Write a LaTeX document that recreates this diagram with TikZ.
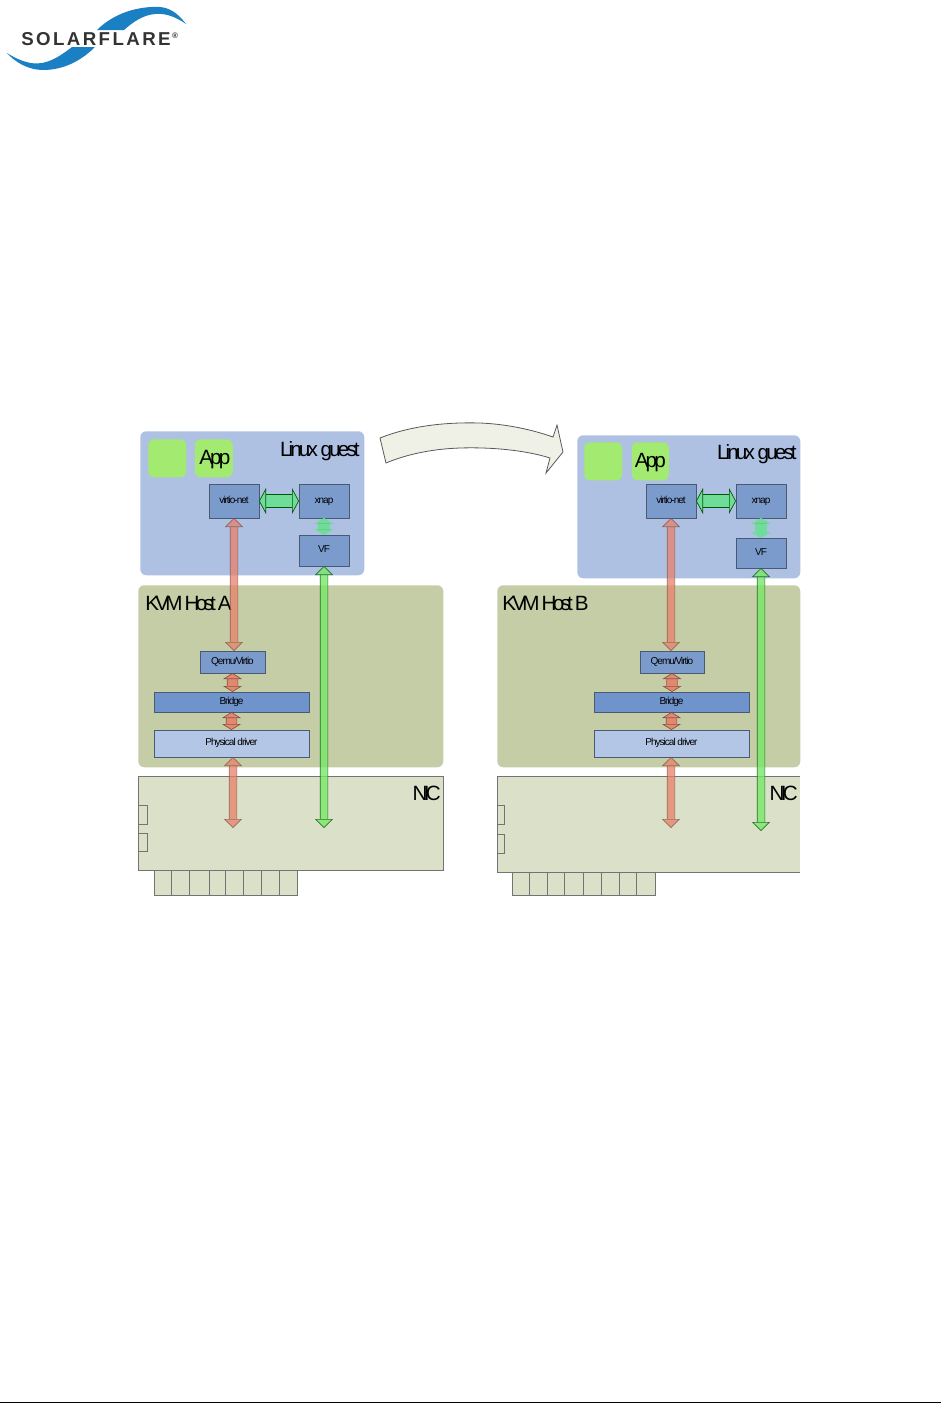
\documentclass[tikz,border=0pt]{standalone}
\usepackage{fontspec}
\setmainfont{Liberation Sans}
\newfontfamily\tightfont[LetterSpace=-14]{Liberation Sans}
\newfontfamily\hostfont[LetterSpace=-18]{Liberation Sans}
\newfontfamily\smallfont[LetterSpace=-10]{Liberation Sans}
\newfontfamily\logofont[LetterSpace=13]{Liberation Sans}
\usetikzlibrary{arrows.meta,positioning,calc}
\def\pxu{.75pt}
\definecolor{ink}{HTML}{4A5A70}
\definecolor{guest}{HTML}{AEC1E2}
\definecolor{host}{HTML}{C5CDA6}
\definecolor{card}{HTML}{DBE0C8}
\definecolor{apple}{HTML}{A2EA70}
\definecolor{module}{HTML}{7C9BCD}
\definecolor{bridge}{HTML}{6F93CB}
\definecolor{driver}{HTML}{B3C6E6}
\definecolor{salmon}{HTML}{E8806A}
\definecolor{mint}{HTML}{6FDC9A}
\definecolor{lime}{HTML}{78E868}
\definecolor{swoosh}{HTML}{1B7FC4}
\tikzset{
 region/.style={inner sep=0,anchor=north west,rounded corners=6*\pxu},
 apptile/.style={region,fill=apple,minimum width=38*\pxu,minimum height=38*\pxu},
 modbox/.style={draw=ink,fill=module,line width=.7pt,inner sep=0,outer sep=0,align=center,text height=5.2pt,text depth=1.5pt,font=\fontsize{7.5}{8}\smallfont},
 wide/.style={modbox,anchor=north west,minimum width=155*\pxu},
 title/.style={inner sep=0,font=\fontsize{15.5}{16}\tightfont},
 hosttitle/.style={inner sep=0,font=\fontsize{15.5}{16}\hostfont},
 nicbox/.style={draw=black!55,fill=card,line width=.7pt},
 redlink/.style={double=salmon,draw=black!45!salmon,line width=.5pt,double distance=7*\pxu,
   {Triangle[length=9*\pxu,width=18*\pxu,fill=salmon]}-{Triangle[length=9*\pxu,width=18*\pxu,fill=salmon]}},
 shortlink/.style={double=salmon,draw=black!45!salmon,line width=.5pt,double distance=10*\pxu,
   {Triangle[length=6*\pxu,width=19*\pxu,fill=salmon]}-{Triangle[length=6*\pxu,width=19*\pxu,fill=salmon]}},
 greenlink/.style={double=lime,draw=green!35!black,line width=.5pt,double distance=7*\pxu,
   {Triangle[length=9*\pxu,width=18*\pxu,fill=lime]}-{Triangle[length=9*\pxu,width=18*\pxu,fill=lime]}},
 minthlink/.style={double=mint,draw=green!35!black,line width=.5pt,double distance=12*\pxu,
   {Triangle[length=7*\pxu,width=26*\pxu,fill=mint]}-{Triangle[length=7*\pxu,width=26*\pxu,fill=mint]}},
 mintvlink/.style={preaction={draw=black!75,line width=12*\pxu,dash pattern=on 2pt off 2.5pt,arrows=-,shorten <=5*\pxu,shorten >=5*\pxu},
   double=mint,draw=mint,line width=.4pt,double distance=10*\pxu,
   {Triangle[length=6*\pxu,width=20*\pxu,fill=mint,color=mint]}-{Triangle[length=6*\pxu,width=20*\pxu,fill=mint,color=mint]}}
}
\begin{document}
\begin{tikzpicture}[x=.75pt,y=-.75pt]
  \useasboundingbox (0,0) rectangle (941,1404);
  % logo
  \fill[swoosh] (97,30) .. controls (115,12) and (140,6) .. (160,7) .. controls (172,8) and (180,16) .. (186,24)
    .. controls (176,17) and (166,13) .. (155,14) .. controls (143,15) and (133,22) .. (124,30) -- cycle;
  \fill[swoosh] (95,47) .. controls (80,62) and (62,70) .. (43,70) .. controls (28,70) and (15,62) .. (7,53)
    .. controls (18,60) and (30,65) .. (42,63) .. controls (53,61) and (63,54) .. (72,47) -- cycle;
  \node[inner sep=0,anchor=west,text=black!80,font=\fontsize{14}{15}\logofont\bfseries] (logo) at (21,39) {SOLARFLARE};
  \node[inner sep=0,anchor=center,text=black!80,font=\fontsize{6}{6}\bfseries] (logomark) at (175,36) {®};

  % host A
  \node[region,fill=guest,minimum width=224*\pxu,minimum height=144*\pxu] (guesta) at (140,431) {};
  \node[region,fill=host,minimum width=305*\pxu,minimum height=182*\pxu] (hosta) at (138,585) {};
  \node[nicbox,inner sep=0,outer sep=0,anchor=north west,minimum width=305*\pxu,minimum height=94*\pxu] (nica) at (138,776) {};
  \foreach \xa/\xb in {154/171,171/189,189/209,209/225,225/243,243/261,261/279,279/297}
    \draw[nicbox] (\xa,870) rectangle (\xb,895);
  \draw[nicbox] (138,805) rectangle (147,824);
  \draw[nicbox] (138,833) rectangle (147,851);
  \node[apptile] (blanka) at (148,439) {};
  \node[apptile,right=8*\pxu of blanka] (appa) {};
  \node[title] at ([xshift=1*\pxu,yshift=-1.5*\pxu]appa) {App};
  \node[title,anchor=east] (linuxa) at (360,451.5) {Linux guest};
  \node[hosttitle,anchor=west] (kvma) at (145,603) {KVM Host A};
  \node[hosttitle,anchor=east] (nicta) at (441,793) {NIC};
  \node[modbox,anchor=north west,minimum width=50*\pxu,minimum height=34*\pxu] (virtioa) at (209,484) {virtio-net};
  \node[modbox,minimum width=50*\pxu,minimum height=34*\pxu,right=40*\pxu of virtioa] (xnapa) {xnap};
  \node[modbox,minimum width=50*\pxu,minimum height=31*\pxu,below=17*\pxu of xnapa] (vfa) {VF};
  \node[modbox,anchor=north west,minimum width=65*\pxu,minimum height=22*\pxu] (qemua) at (200,651) {Qemu/Virtio};
  \node[wide,fill=bridge,minimum height=20*\pxu] (bridgea) at (154,692) {Bridge};
  \node[wide,fill=driver,minimum height=27*\pxu,anchor=north,below=18*\pxu of bridgea] (drivera) {Physical driver};
  \coordinate (redenda) at (233,828);
  \coordinate (greenenda) at (324,828);
  \scoped[transparency group,opacity=.75] \draw[redlink] (virtioa.south) -- (virtioa.south |- qemua.north);
  \scoped[transparency group,opacity=.9] \draw[shortlink] (qemua.south) -- (qemua.south |- bridgea.north);
  \scoped[transparency group,opacity=.9] \draw[shortlink] (bridgea.south) -- (drivera.north);
  \scoped[transparency group,opacity=.75] \draw[redlink] (redenda |- drivera.south) -- (redenda);
  \scoped[transparency group,opacity=.8] \draw[greenlink] (vfa.south) -- (greenenda);
  \draw[minthlink] (virtioa) -- (xnapa);
  \draw[mintvlink] (xnapa) -- (vfa);

  % host B
  \node[region,fill=guest,minimum width=223*\pxu,minimum height=143*\pxu] (guestb) at (577,435) {};
  \node[region,fill=host,minimum width=303*\pxu,minimum height=182*\pxu] (hostb) at (497,585) {};
  \fill[card] (497,776) rectangle (800,872);
  \draw[black!55,line width=.7pt] (800,776) -- (497,776) -- (497,872) -- (800,872);
  \foreach \xa/\xb in {512/529,529/547,547/564,564/583,583/601,601/619,619/636,636/655}
    \draw[nicbox] (\xa,872) rectangle (\xb,895);
  \draw[nicbox] (497,805) rectangle (504,824);
  \draw[nicbox] (497,834) rectangle (504,853);
  \node[apptile] (blankb) at (584,442) {};
  \node[apptile,right=9*\pxu of blankb,minimum width=37*\pxu] (appb) {};
  \node[title] at ([yshift=-1.5*\pxu]appb) {App};
  \node[title,anchor=east] (linuxb) at (797,454.5) {Linux guest};
  \node[hosttitle,anchor=west] (kvmb) at (502,603) {KVM Host B};
  \node[hosttitle,anchor=east] (nictb) at (798,793) {NIC};
  \node[modbox,anchor=north west,minimum width=50*\pxu,minimum height=34*\pxu] (virtiob) at (646,484) {virtio-net};
  \node[modbox,minimum width=50*\pxu,minimum height=34*\pxu,right=40*\pxu of virtiob] (xnapb) {xnap};
  \node[modbox,minimum width=50*\pxu,minimum height=30*\pxu,below=20*\pxu of xnapb] (vfb) {VF};
  \node[modbox,anchor=north west,minimum width=64*\pxu,minimum height=22*\pxu] (qemub) at (640,651) {Qemu/Virtio};
  \node[wide,fill=bridge,minimum height=20*\pxu] (bridgeb) at (594,692) {Bridge};
  \node[wide,fill=driver,minimum height=27*\pxu,anchor=north,below=18*\pxu of bridgeb] (driverb) {Physical driver};
  \coordinate (redendb) at (671,828);
  \coordinate (greenendb) at (761,831);
  \scoped[transparency group,opacity=.75] \draw[redlink] (virtiob.south) -- (virtiob.south |- qemub.north);
  \scoped[transparency group,opacity=.9] \draw[shortlink] (qemub.south) -- (qemub.south |- bridgeb.north);
  \scoped[transparency group,opacity=.9] \draw[shortlink] (bridgeb.south) -- (driverb.north);
  \scoped[transparency group,opacity=.75] \draw[redlink] (redendb |- driverb.south) -- (redendb);
  \scoped[transparency group,opacity=.8] \draw[greenlink] (vfb.south) -- (greenendb);
  \draw[minthlink] (virtiob) -- (xnapb);
  \draw[mintvlink] (xnapb) -- (vfb);

  % migration arrow
  \draw[draw=black!65,fill=card!45,line width=.6pt] (380,438) .. controls (410,426) and (445,422) .. (480,423)
    .. controls (505,424) and (530,429) .. (553,437) -- (557,425) -- (563,452) -- (546,473) -- (550,458)
    .. controls (525,450) and (490,447) .. (460,448) .. controls (430,449) and (405,455) .. (386,463) -- cycle;

  % footer rule
  \draw[black,line width=1pt] (0,1402.5) -- (941,1402.5);
\end{tikzpicture}
\end{document}
